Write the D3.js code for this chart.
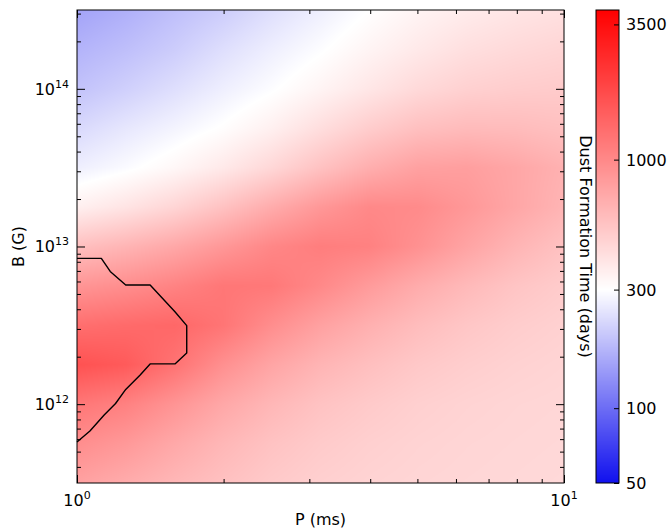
<!DOCTYPE html>
<html>
<head>
<meta charset="utf-8">
<script src="https://cdn.jsdelivr.net/npm/d3@7"></script>
<style>
  html, body { margin: 0; padding: 0; background: #fff; }
  svg { display: block; font-family: "DejaVu Sans", sans-serif; }
</style>
</head>
<body>
<svg id="chart" width="671" height="531"></svg>
<script>
// Spin period grid (ms), log-spaced
const periodMs = [1, 1.259, 1.585, 1.995, 2.512, 3.162, 3.981, 5.012, 6.310, 7.943, 10];
// Magnetic field grid (G), log-spaced, top row first
const fieldG = [3.162e14, 1.778e14, 1e14, 5.623e13, 3.162e13, 1.778e13, 1e13,
                5.623e12, 3.162e12, 1.778e12, 1e12, 5.623e11, 3.162e11];
// Dust formation time (days): one row per field value, one column per period
const formationDays = [
  [150, 165, 185, 205, 235, 265, 300, 335, 365, 390, 410],
  [170, 185, 205, 235, 265, 295, 335, 375, 415, 440, 460],
  [190, 210, 235, 265, 295, 335, 385, 440, 480, 500, 510],
  [225, 250, 275, 305, 350, 420, 500, 570, 600, 595, 570],
  [265, 290, 325, 375, 450, 560, 680, 780, 800, 740, 660],
  [350, 395, 460, 560, 700, 860, 1000, 980, 860, 740, 640],
  [570, 640, 730, 860, 1020, 1120, 1080, 920, 760, 640, 560],
  [880, 950, 1060, 1200, 1180, 1000, 830, 700, 610, 545, 505],
  [1300, 1360, 1400, 1220, 950, 780, 670, 590, 535, 500, 478],
  [1750, 1600, 1250, 930, 750, 640, 575, 525, 495, 475, 462],
  [1200, 1080, 890, 730, 625, 555, 515, 485, 468, 458, 452],
  [950, 850, 725, 625, 555, 512, 485, 468, 458, 452, 447],
  [780, 700, 625, 565, 515, 485, 468, 458, 452, 447, 442]
];
// Outline of the long-formation-time region (P in ms, B in G)
const contourP = [1, 1.122, 1.170, 1.259, 1.413, 1.589, 1.680, 1.680, 1.589, 1.413, 1.348, 1.259, 1.200, 1.137, 1.063, 1];
const contourB = [8.41e12, 8.41e12, 6.95e12, 5.70e12, 5.70e12, 3.86e12, 3.15e12, 2.11e12,
                  1.80e12, 1.80e12, 1.53e12, 1.24e12, 1.01e12, 8.53e11, 6.75e11, 5.75e11];
// Axis ticks and labels
const xTickValues = [1, 10];
const xTickExps = ["0", "1"];
const yTickValues = [1e12, 1e13, 1e14];
const yTickExps = ["12", "13", "14"];
const cbarTicks = [50, 100, 300, 1000, 3500];
const cbarTickLabels = ["50", "100", "300", "1000", "3500"];
const cbarDomain = [50, 4000];

const svg = d3.select("#chart");
const plot = { x0: 77, x1: 564, y0: 10, y1: 483 };
const pw = plot.x1 - plot.x0, ph = plot.y1 - plot.y0;

const x = d3.scaleLog().domain([periodMs[0], periodMs[periodMs.length - 1]]).range([plot.x0, plot.x1]);
const y = d3.scaleLog().domain([fieldG[fieldG.length - 1], fieldG[0]]).range([plot.y1, plot.y0]);

// Diverging blue-white-red map, white at 300 days, log spacing on each side
const color = d3.scaleLog().domain([cbarDomain[0], 300, cbarDomain[1]])
  .range(["#1010ee", "#ffffff", "#ff0000"]).clamp(true);

// Fractional grid index from a physical value
const colIdx = d3.scaleLog().domain(periodMs).range(d3.range(periodMs.length)).clamp(true);
const rowIdx = d3.scaleLog().domain(fieldG).range(d3.range(fieldG.length)).clamp(true);
const logGrid = formationDays.map(r => r.map(v => Math.log10(v)));

function sample(P, B) {
  const c = colIdx(P), r = rowIdx(B);
  const c0 = Math.min(Math.floor(c), periodMs.length - 2), r0 = Math.min(Math.floor(r), fieldG.length - 2);
  const fc = c - c0, fr = r - r0;
  const a = logGrid[r0][c0], b = logGrid[r0][c0 + 1];
  const d = logGrid[r0 + 1][c0], e = logGrid[r0 + 1][c0 + 1];
  const top = a + (b - a) * fc, bot = d + (e - d) * fc;
  return Math.pow(10, top + (bot - top) * fr);
}

// Heat map raster
const cv = document.createElement("canvas");
cv.width = pw; cv.height = ph;
const ctx = cv.getContext("2d");
const img = ctx.createImageData(pw, ph);
for (let j = 0; j < ph; j++) {
  const B = y.invert(plot.y0 + j + 0.5);
  for (let i = 0; i < pw; i++) {
    const P = x.invert(plot.x0 + i + 0.5);
    const c = d3.rgb(color(sample(P, B)));
    const k = (j * pw + i) * 4;
    img.data[k] = c.r; img.data[k + 1] = c.g; img.data[k + 2] = c.b; img.data[k + 3] = 255;
  }
}
ctx.putImageData(img, 0, 0);
svg.append("image").attr("x", plot.x0).attr("y", plot.y0)
  .attr("width", pw).attr("height", ph)
  .attr("preserveAspectRatio", "none")
  .attr("href", cv.toDataURL());

// Contour outline
svg.append("path")
  .datum(d3.zip(contourP, contourB))
  .attr("fill", "none").attr("stroke", "#000").attr("stroke-width", 1.4)
  .attr("stroke-linejoin", "round")
  .attr("d", d3.line().x(d => x(d[0])).y(d => y(d[1])));

// Ticks on all four sides, pointing inward
const isMajor = v => Math.abs(Math.log10(v) - Math.round(Math.log10(v))) < 1e-6;
const xMinor = x.ticks().filter(v => !isMajor(v));
const yMinor = y.ticks().filter(v => !isMajor(v));
const tickStyle = g => { g.select(".domain").remove(); g.selectAll("line").attr("stroke", "#000"); g.selectAll("text").remove(); };

[[d3.axisBottom, plot.y1], [d3.axisTop, plot.y0]].forEach(([ax, ty]) => {
  svg.append("g").attr("transform", `translate(0,${ty})`)
    .call(ax(x).tickValues(xTickValues).tickSize(-8).tickSizeOuter(0)).call(tickStyle);
  svg.append("g").attr("transform", `translate(0,${ty})`)
    .call(ax(x).tickValues(xMinor).tickSize(-4).tickSizeOuter(0)).call(tickStyle);
});
[[d3.axisLeft, plot.x0], [d3.axisRight, plot.x1]].forEach(([ax, tx]) => {
  svg.append("g").attr("transform", `translate(${tx},0)`)
    .call(ax(y).tickValues(yTickValues).tickSize(-8).tickSizeOuter(0)).call(tickStyle);
  svg.append("g").attr("transform", `translate(${tx},0)`)
    .call(ax(y).tickValues(yMinor).tickSize(-4).tickSizeOuter(0)).call(tickStyle);
});

svg.append("rect").attr("x", plot.x0).attr("y", plot.y0).attr("width", pw).attr("height", ph)
  .attr("fill", "none").attr("stroke", "#000").attr("stroke-width", 1);

// Power-of-ten tick labels
xTickValues.forEach((v, i) => {
  const t = svg.append("text").attr("x", x(v)).attr("y", 506).attr("text-anchor", "middle")
    .attr("font-size", 16).attr("fill", "#000");
  t.append("tspan").text("10");
  t.append("tspan").attr("font-size", 11).attr("dy", -7).text(xTickExps[i]);
});
yTickValues.forEach((v, i) => {
  const t = svg.append("text").attr("x", 69).attr("y", y(v) + 6).attr("text-anchor", "end")
    .attr("font-size", 16).attr("fill", "#000");
  t.append("tspan").text("10");
  t.append("tspan").attr("font-size", 11).attr("dy", -7).text(yTickExps[i]);
});

// Axis titles
svg.append("text").attr("x", (plot.x0 + plot.x1) / 2).attr("y", 525).attr("text-anchor", "middle")
  .attr("font-size", 16).text("P (ms)");
svg.append("text").attr("transform", `translate(24,${(plot.y0 + plot.y1) / 2}) rotate(-90)`)
  .attr("text-anchor", "middle").attr("font-size", 16).text("B (G)");

// Colour bar
const cb = { x: 596, w: 23, y0: plot.y0, y1: plot.y1 };
const cbScale = d3.scaleLog().domain(cbarDomain).range([cb.y1, cb.y0]);
const cbh = cb.y1 - cb.y0;
const cbc = document.createElement("canvas");
cbc.width = 1; cbc.height = cbh;
const cbx = cbc.getContext("2d");
for (let j = 0; j < cbh; j++) {
  cbx.fillStyle = color(cbScale.invert(cb.y0 + j + 0.5));
  cbx.fillRect(0, j, 1, 1);
}
svg.append("image").attr("x", cb.x).attr("y", cb.y0).attr("width", cb.w).attr("height", cbh)
  .attr("preserveAspectRatio", "none").style("image-rendering", "pixelated")
  .attr("href", cbc.toDataURL());
svg.append("g").attr("transform", `translate(${cb.x + cb.w},0)`)
  .call(d3.axisRight(cbScale).tickValues(cbarTicks).tickSize(-5).tickSizeOuter(0))
  .call(g => { g.select(".domain").remove(); g.selectAll("line").attr("stroke", "#000"); g.selectAll("text").remove(); });
svg.append("rect").attr("x", cb.x).attr("y", cb.y0).attr("width", cb.w).attr("height", cbh)
  .attr("fill", "none").attr("stroke", "#000").attr("stroke-width", 1);
svg.selectAll("text.cbl").data(cbarTicks).join("text").attr("class", "cbl")
  .attr("x", 626).attr("y", d => cbScale(d) + 6).attr("font-size", 16)
  .text((d, i) => cbarTickLabels[i]);
svg.append("text").attr("transform", `translate(580,${(cb.y0 + cb.y1) / 2}) rotate(90)`)
  .attr("text-anchor", "middle").attr("font-size", 16).text("Dust Formation Time (days)");
</script>
</body>
</html>
